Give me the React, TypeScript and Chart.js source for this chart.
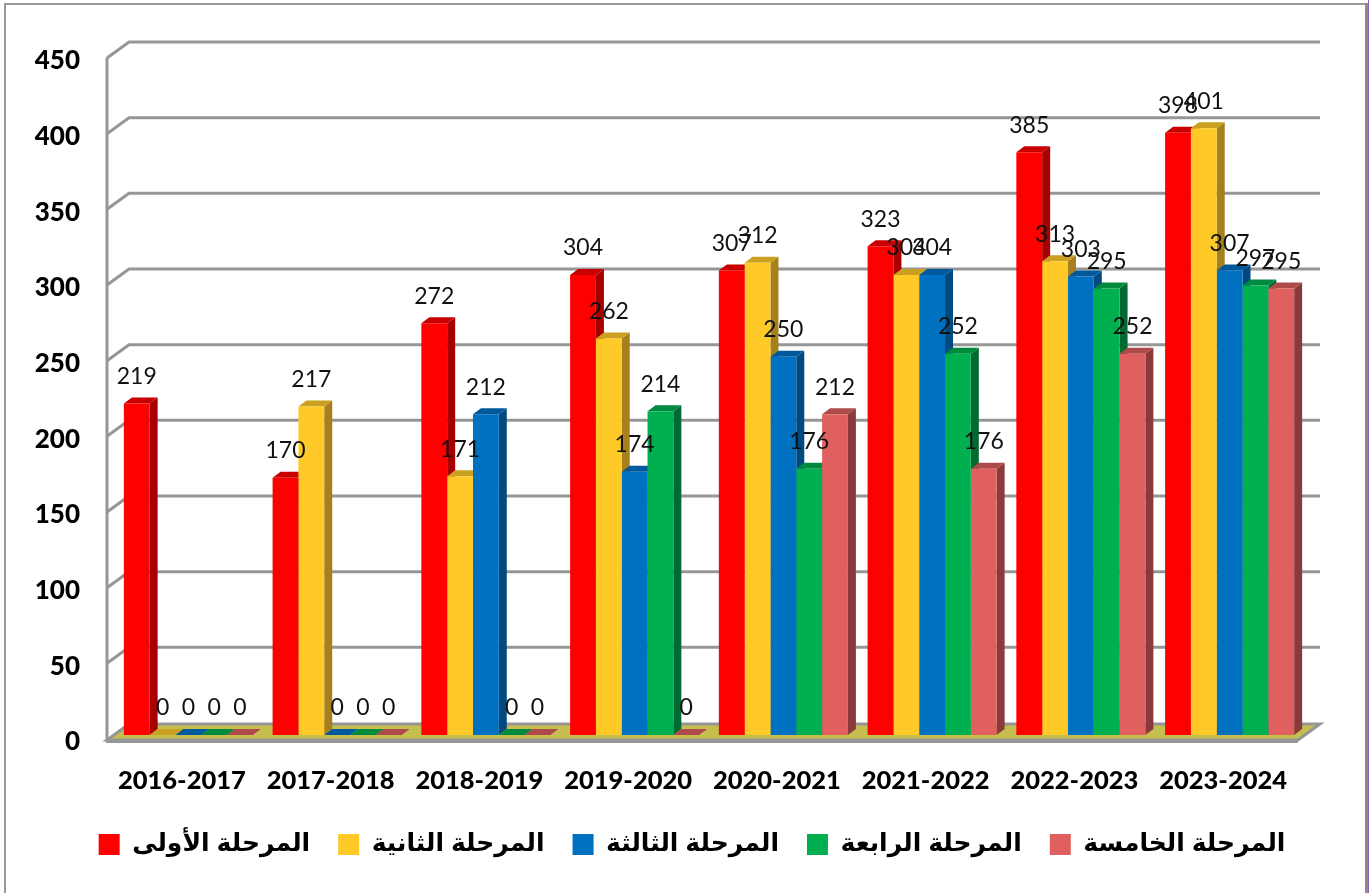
import React, { useEffect, useRef } from "react";
import { Chart, registerables } from "chart.js";

Chart.register(...registerables);

const categories = ["2016-2017", "2017-2018", "2018-2019", "2019-2020", "2020-2021", "2021-2022", "2022-2023", "2023-2024"];
const stage1 = [219, 170, 272, 304, 307, 323, 385, 398];
const stage2 = [0, 217, 171, 262, 312, 304, 313, 401];
const stage3 = [0, 0, 212, 174, 250, 304, 303, 307];
const stage4 = [0, 0, 0, 214, 176, 252, 295, 297];
const stage5 = [0, 0, 0, 0, 212, 176, 252, 295];
const seriesNames = ["المرحلة الأولى", "المرحلة الثانية", "المرحلة الثالثة", "المرحلة الرابعة", "المرحلة الخامسة"];
const seriesValues = [stage1, stage2, stage3, stage4, stage5];
const frontColors = ["#ff0000", "#ffca28", "#0070c0", "#00b050", "#e06060"];
const topColors = ["#c80000", "#c9a020", "#00599c", "#008a3e", "#ae4a4a"];
const sideColors = ["#a60000", "#a5801c", "#004a80", "#006a30", "#8b3a3c"];

const DEPTH_X = 8;
const DEPTH_Y = 6;
const GRID = "#969696";
const LEGEND_CENTER_X = 692;
const LEGEND_TOP = 804;

const walls = {
  id: "walls",
  afterLayout(chart: any) {
    const lg = chart.legend;
    const half = (lg.right - lg.left) / 2;
    lg.left = LEGEND_CENTER_X - half;
    lg.right = LEGEND_CENTER_X + half;
    const h = lg.bottom - lg.top;
    lg.top = LEGEND_TOP;
    lg.bottom = LEGEND_TOP + h;
  },
  beforeDraw(chart: any) {
    const { ctx } = chart;
    ctx.save();
    ctx.fillStyle = "#ffffff";
    ctx.fillRect(0, 0, chart.width, chart.height);
    ctx.fillStyle = "#9a9a9a";
    ctx.fillRect(4, 3, 1361, 2);
    ctx.fillRect(4, 3, 2, 890);
    ctx.fillStyle = "#8c8c8c";
    ctx.fillRect(1365, 3, 3, 890);
    ctx.fillStyle = "#8f5fc0";
    ctx.fillRect(1368, 0, 1, 893);
    ctx.restore();
  },
  beforeDatasetsDraw(chart: any) {
    const { ctx } = chart;
    const y = chart.scales.y;
    const frontX = 107;
    const backX = 129;
    const rightX = 1320;
    const frontR = 1298;
    const y0 = y.getPixelForValue(0);
    const frontBase = y0 + 5;
    const backBase = y0 - 11;
    ctx.save();
    ctx.lineCap = "butt";
    ctx.lineJoin = "miter";
    ctx.strokeStyle = GRID;
    ctx.lineWidth = 3;
    y.ticks.forEach((t: any) => {
      if (t.value === 0) return;
      const p = y.getPixelForValue(t.value);
      ctx.beginPath();
      ctx.moveTo(frontX, p + 4);
      ctx.lineTo(backX, p - 12);
      ctx.lineTo(rightX, p - 12);
      ctx.stroke();
    });
    ctx.beginPath();
    ctx.moveTo(frontX, frontBase);
    ctx.lineTo(backX, backBase);
    ctx.lineTo(rightX, backBase);
    ctx.lineTo(frontR, frontBase);
    ctx.closePath();
    ctx.fillStyle = "#c4bf4e";
    ctx.fill();
    ctx.lineWidth = 3;
    ctx.stroke();
    ctx.lineWidth = 4;
    ctx.beginPath();
    ctx.moveTo(frontX - 1, frontBase + 1);
    ctx.lineTo(frontR, frontBase + 1);
    ctx.stroke();
    ctx.lineWidth = 3;
    ctx.beginPath();
    ctx.moveTo(frontX, y.getPixelForValue(450) + 4);
    ctx.lineTo(frontX, frontBase + 2);
    ctx.stroke();
    // top and side faces of the bars, left to right; the fronts are painted over them afterwards
    chart.data.datasets.forEach((_: any, i: number) => {
      chart.getDatasetMeta(i).data.forEach((bar: any) => {
        const { x, y: top, base, width } = bar.getProps(["x", "y", "base", "width"], true);
        const l = x - width / 2;
        const r = x + width / 2;
        if (base - top > 0.5) {
          ctx.fillStyle = sideColors[i];
          ctx.beginPath();
          ctx.moveTo(r, top);
          ctx.lineTo(r + DEPTH_X, top - DEPTH_Y);
          ctx.lineTo(r + DEPTH_X, base - DEPTH_Y);
          ctx.lineTo(r, base);
          ctx.closePath();
          ctx.fill();
        }
        ctx.fillStyle = topColors[i];
        ctx.beginPath();
        ctx.moveTo(l, top);
        ctx.lineTo(l + DEPTH_X, top - DEPTH_Y);
        ctx.lineTo(r + DEPTH_X, top - DEPTH_Y);
        ctx.lineTo(r, top);
        ctx.closePath();
        ctx.fill();
      });
    });
    ctx.restore();
  },
  afterDatasetsDraw(chart: any) {
    const { ctx } = chart;
    ctx.save();
    ctx.font = '23px Lato, "Open Sans", sans-serif';
    ctx.fillStyle = "#111111";
    ctx.textAlign = "center";
    ctx.textBaseline = "middle";
    chart.data.datasets.forEach((ds: any, i: number) => {
      chart.getDatasetMeta(i).data.forEach((bar: any, j: number) => {
        ctx.fillText(String(ds.data[j]), bar.x, bar.y - 27);
      });
    });
    ctx.restore();
  },
};

export default function App() {
  const ref = useRef<HTMLCanvasElement>(null);
  useEffect(() => {
    document.body.style.margin = "0";
    const chart = new Chart(ref.current as HTMLCanvasElement, {
      type: "bar",
      data: {
        labels: categories,
        datasets: seriesValues.map((data, i) => ({
          label: seriesNames[i],
          data,
          backgroundColor: frontColors[i],
          borderWidth: 0,
        })),
      },
      plugins: [walls],
      options: {
        responsive: false,
        animation: false,
        layout: { padding: { left: 0, right: 65, top: 54, bottom: 35 } },
        datasets: { bar: { barPercentage: 1, categoryPercentage: 0.8675 } },
        plugins: {
          tooltip: { enabled: false },
          legend: {
            position: "bottom",
            align: "center",
            labels: {
              boxWidth: 21,
              boxHeight: 21,
              padding: 28,
              color: "#000000",
              font: { family: '"Liberation Sans", "DejaVu Sans", sans-serif', weight: "bold", size: 25 },
            },
          },
        },
        scales: {
          x: {
            grid: { display: false },
            border: { display: false },
            afterFit(s: any) { s.height = 60; },
            ticks: {
              color: "#000000",
              padding: 22,
              labelOffset: -6.5,
              maxRotation: 0,
              autoSkip: false,
              font: { family: 'Lato, "Open Sans", sans-serif', weight: 900, size: 25.5 },
            },
          },
          y: {
            min: 0,
            max: 450,
            grid: { display: false },
            border: { display: false },
            afterFit(s: any) { s.width = 114; },
            ticks: {
              stepSize: 50,
              color: "#000000",
              padding: 26,
              labelOffset: 7,
              font: { family: 'Lato, "Open Sans", sans-serif', weight: 900, size: 26 },
            },
          },
        },
      },
    } as any);
    return () => chart.destroy();
  }, []);
  return <canvas ref={ref} width={1369} height={893} style={{ display: "block" }} />;
}
